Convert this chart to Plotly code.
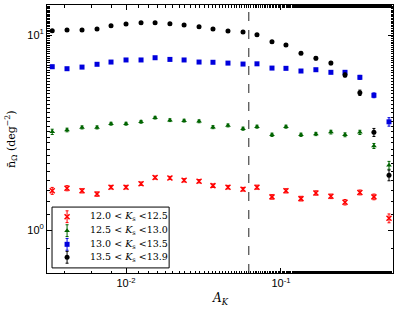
import plotly.graph_objects as go

# A_K bin centres
A_K = [0.00334, 0.00416, 0.00520, 0.00650, 0.00800, 0.0100, 0.0125, 0.0154,
       0.0192, 0.0237, 0.0296, 0.0364, 0.0455, 0.0569, 0.0700, 0.0875,
       0.1077, 0.1346, 0.168, 0.210, 0.259, 0.323, 0.398, 0.498]

n_12_0 = [1.59, 1.64, 1.59, 1.53, 1.66, 1.66, 1.73, 1.86, 1.85, 1.80, 1.78, 1.69,
          1.66, 1.62, 1.66, 1.48, 1.59, 1.45, 1.55, 1.49, 1.39, 1.56, 1.48, 1.15]
e_12_0 = [0.065, 0.05, 0.04, 0.04, 0.035, 0.035, 0.035, 0.035, 0.035, 0.035, 0.035, 0.035,
          0.035, 0.035, 0.04, 0.04, 0.04, 0.04, 0.04, 0.04, 0.045, 0.045, 0.05, 0.06]

n_12_5 = [3.19, 3.26, 3.36, 3.36, 3.51, 3.51, 3.59, 3.77, 3.66, 3.64, 3.61, 3.37,
          3.44, 3.31, 3.39, 3.08, 3.39, 3.08, 3.11, 3.18, 3.08, 3.17, 2.70, 2.15]
e_12_5 = [0.10, 0.07, 0.06, 0.06, 0.06, 0.06, 0.06, 0.06, 0.06, 0.06, 0.06, 0.06,
          0.06, 0.06, 0.06, 0.06, 0.06, 0.06, 0.06, 0.07, 0.07, 0.08, 0.08, 0.10]

n_13_0 = [6.88, 6.72, 6.85, 7.08, 7.27, 7.45, 7.45, 7.65, 7.50, 7.45, 7.27, 7.25,
          7.18, 7.10, 7.12, 6.77, 6.75, 6.54, 6.64, 6.44, 6.44, 6.07, 4.91, 3.59]
e_13_0 = [0.12, 0.10, 0.10, 0.10, 0.10, 0.10, 0.10, 0.10, 0.10, 0.10, 0.10, 0.10,
          0.10, 0.10, 0.10, 0.10, 0.10, 0.10, 0.10, 0.10, 0.12, 0.14, 0.14, 0.18]

n_13_5 = [10.52, 10.61, 10.61, 10.73, 11.16, 11.38, 11.56, 11.56, 11.43, 11.25, 11.03, 10.73,
          10.49, 10.36, 10.04, 9.25, 8.89, 8.06, 7.60, 7.18, 6.24, 5.06, 3.17, 1.91]
e_13_5 = [0.15, 0.12, 0.12, 0.12, 0.12, 0.12, 0.12, 0.12, 0.12, 0.12, 0.12, 0.12,
          0.12, 0.12, 0.12, 0.12, 0.12, 0.12, 0.14, 0.14, 0.15, 0.16, 0.15, 0.12]

labels = ["12.0 &lt; <i>K</i><sub>s</sub> &lt;12.5",
          "12.5 &lt; <i>K</i><sub>s</sub> &lt;13.0",
          "13.0 &lt; <i>K</i><sub>s</sub> &lt;13.5",
          "13.5 &lt; <i>K</i><sub>s</sub> &lt;13.9"]
colors = ["#ff0000", "#006400", "#0000dd", "#000000"]
symbols = ["x-thin", "triangle-up", "square", "circle"]
series = [(n_12_0, e_12_0), (n_12_5, e_12_5), (n_13_0, e_13_0), (n_13_5, e_13_5)]

AK_CUT = 0.062

# legend layout (fractions of the plot area)
LEG_BOX = dict(x0=0.0145, x1=0.353, y0=0.019, y1=0.246)
LEG_ROWS = [0.210, 0.158, 0.107, 0.0586]
LEG_SYM_X = 0.058
LEG_TXT_X = 0.1185

fig = go.Figure()
for (vals, errs), lab, col, sym in zip(series, labels, colors, symbols):
    mk = dict(color=col, symbol=sym, size=5,
              line=dict(color=col, width=1.5 if sym == "x-thin" else 0))
    fig.add_trace(go.Scatter(
        x=A_K, y=vals, mode="markers", name=lab, showlegend=False,
        marker=mk,
        error_y=dict(type="data", array=errs, color=col, thickness=1, width=1.5),
    ))

# custom legend (compact, matplotlib-like)
fig.add_shape(type="rect", xref="paper", yref="paper", line=dict(color="black", width=1),
              fillcolor="white", layer="below", **LEG_BOX)
for lab, col, sym, ry in zip(labels, colors, symbols, LEG_ROWS):
    fig.add_trace(go.Scatter(
        x=[LEG_SYM_X], y=[ry], xaxis="x2", yaxis="y2", mode="markers", showlegend=False,
        marker=dict(color=col, symbol=sym, size=5,
                    line=dict(color=col, width=1.5 if sym == "x-thin" else 0)),
        error_y=dict(type="constant", value=0.022, color=col, thickness=1, width=1.5),
        hoverinfo="skip",
    ))
    fig.add_annotation(text=lab, xref="paper", yref="paper", x=LEG_TXT_X, y=ry,
                       xanchor="left", yanchor="middle", showarrow=False,
                       font=dict(family="DejaVu Serif", size=9.5, color="black"))

fig.add_vline(x=AK_CUT, line=dict(color="#222222", width=1, dash="dash"))

axis_common = dict(
    type="log", showgrid=False, zeroline=False, showline=True, linecolor="black",
    linewidth=1, mirror="allticks", ticks="inside", ticklen=5, tickcolor="black",
    minor=dict(ticks="inside", ticklen=2.5, tickcolor="black", showgrid=False),
    tickfont=dict(family="Liberation Sans", size=11, color="black"),
    automargin=False,
)

fig.add_annotation(text="<i>A</i><sub><i>K</i></sub>", xref="paper", yref="paper",
                   x=0.5, y=-0.06, xanchor="center", yanchor="top", showarrow=False,
                   font=dict(family="DejaVu Serif", size=12, color="black"))
fig.add_annotation(text="n̄<sub>Ω</sub> (deg<sup>−2</sup>)", xref="paper", yref="paper",
                   x=-0.075, y=0.5, xanchor="right", yanchor="middle", textangle=-90,
                   showarrow=False,
                   font=dict(family="DejaVu Serif", size=11, color="black"))

fig.update_layout(
    width=399, height=312,
    margin=dict(l=47, r=6, t=5, b=39),
    paper_bgcolor="white", plot_bgcolor="white",
    showlegend=False,
    xaxis=dict(**axis_common, range=[-2.51, -0.277],
               tickvals=[0.01, 0.1], ticktext=["10<sup>-2</sup>", "10<sup>-1</sup>"]),
    yaxis=dict(**axis_common, range=[-0.22, 1.154],
               tickvals=[1, 10], ticktext=["10<sup>0</sup>", "10<sup>1</sup>"]),
    xaxis2=dict(overlaying="x", range=[0, 1], visible=False, anchor="y2"),
    yaxis2=dict(overlaying="y", range=[0, 1], visible=False, anchor="x2"),
)

fig.write_html("out.html", config={"displayModeBar": False},
               post_script="document.body.style.margin='0';document.body.style.overflow='hidden';")
